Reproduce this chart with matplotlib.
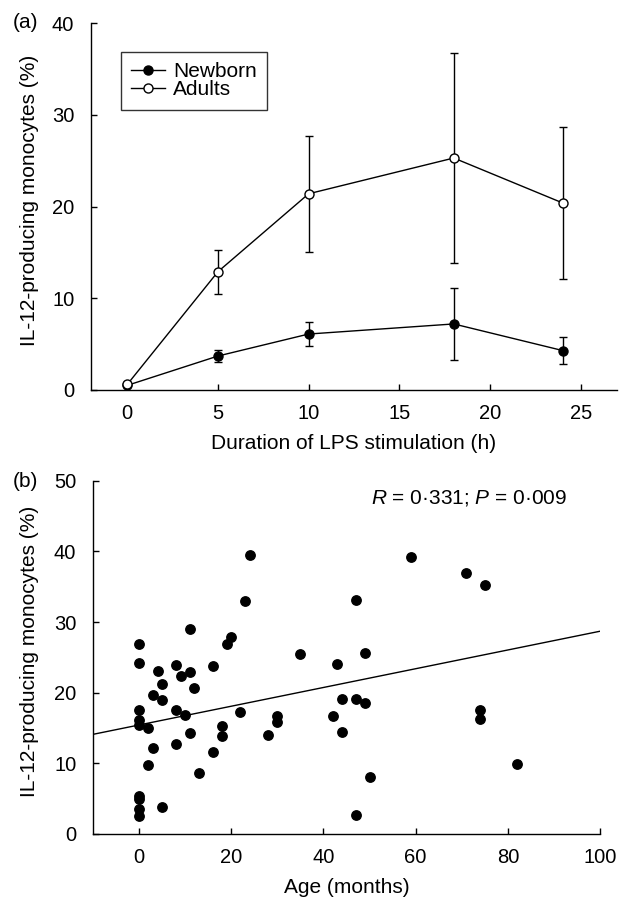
import numpy as np
import matplotlib
matplotlib.use("Agg")
import matplotlib.pyplot as plt

plt.rcParams['font.family'] = ['Liberation Sans', 'DejaVu Sans']
plt.rcParams['mathtext.fontset'] = 'custom'
plt.rcParams['mathtext.rm'] = 'Liberation Sans'
plt.rcParams['mathtext.it'] = 'Liberation Sans:italic'

# (a) IL-12 vs duration of LPS stimulation
hours = [0, 5, 10, 18, 24]
newborn_mean = [0.5, 3.7, 6.1, 7.2, 4.3]
newborn_err = [0, 0.7, 1.35, 3.9, 1.5]
adult_mean = [0.6, 12.9, 21.4, 25.3, 20.4]
adult_err = [0, 2.4, 6.3, 11.5, 8.3]

# (b) IL-12 vs age
age = [0, 0, 0, 0, 0, 0, 0, 0, 0, 2, 2, 3, 3, 4, 5, 5, 5, 8, 8, 8,
       9, 10, 11, 11, 11, 12, 13, 16, 16, 18, 18, 19, 20, 22, 23, 24,
       28, 30, 30, 35, 42, 43, 44, 44, 47, 47, 47, 49, 49, 50, 59, 71,
       75, 74, 74, 82]
il12 = [26.9, 24.2, 17.6, 16.1, 15.4, 5.4, 4.9, 3.6, 2.5, 15.0, 9.8,
        19.7, 12.1, 23.1, 21.2, 18.9, 3.8, 23.9, 17.5, 12.7, 22.4, 16.9,
        29.0, 22.9, 14.3, 20.6, 8.7, 23.8, 11.6, 15.3, 13.8, 26.9, 27.9,
        17.2, 33.0, 39.5, 14.0, 16.7, 15.8, 25.5, 16.7, 24.0, 19.1, 14.5,
        33.1, 19.1, 2.7, 25.6, 18.5, 8.0, 39.2, 36.9, 35.3, 17.5, 16.3, 9.9]
fit_intercept = 15.43
fit_slope = 0.1327

fig = plt.figure(figsize=(6.3, 9.01), dpi=100)
ax1 = fig.add_axes([0.1444, 0.5672, 0.835, 0.407])
ax2 = fig.add_axes([0.1476, 0.0744, 0.8048, 0.392])

for ax in (ax1, ax2):
    ax.spines['top'].set_visible(False)
    ax.spines['right'].set_visible(False)
    for s in ('left', 'bottom'):
        ax.spines[s].set_linewidth(1.0)
    ax.tick_params(direction='in', length=4.5, width=1.0, labelsize=14.5, pad=10)
    ax.tick_params(axis='y', pad=12)

# panel a
nb = ax1.errorbar(hours, newborn_mean, yerr=newborn_err, color='black', marker='o',
                  markersize=6.5, markerfacecolor='black', markeredgecolor='black',
                  lw=1, elinewidth=1, capsize=3, capthick=1)
ad = ax1.errorbar(hours, adult_mean, yerr=adult_err, color='black', marker='o',
                  markersize=6.5, markerfacecolor='white', markeredgecolor='black',
                  markeredgewidth=1, lw=1, elinewidth=1, capsize=3, capthick=1)
ax1.set_xlim(-2, 27)
ax1.set_ylim(0, 40)
ax1.set_xticks([0, 5, 10, 15, 20, 25])
ax1.set_yticks([0, 10, 20, 30, 40])
leg = ax1.legend([nb[0], ad[0]], ['Newborn', 'Adults'],
                 loc='upper left', bbox_to_anchor=(0.057, 0.922), borderaxespad=0,
                 fontsize=15, frameon=True, fancybox=False, edgecolor='black',
                 labelspacing=-0.05, handlelength=1.6, handletextpad=0.4,
                 borderpad=0.5)
leg.get_frame().set_linewidth(1.0)
ax1.set_xlabel('Duration of LPS stimulation (h)', fontsize=15, labelpad=8)

# panel b
ax2.scatter(age, il12, s=46, color='black', zorder=3)
xs = np.array([-10, 100])
ax2.plot(xs, fit_intercept + fit_slope * xs, color='black', lw=1)
ax2.set_xlim(-10, 100)
ax2.set_ylim(0, 50)
ax2.set_xticks([0, 20, 40, 60, 80, 100])
ax2.set_yticks([0, 10, 20, 30, 40, 50])
ax2.set_xlabel('Age (months)', fontsize=15, labelpad=8)
ax2.text(50.3, 47.5, r'$R$ = 0·331; $P$ = 0·009', fontsize=15, ha='left', va='center')

fig.text(30 / 630, 1 - 200 / 901, 'IL-12-producing monocytes (%)', rotation=90,
         ha='center', va='center', fontsize=15)
fig.text(30 / 630, 1 - 651 / 901, 'IL-12-producing monocytes (%)', rotation=90,
         ha='center', va='center', fontsize=15)
fig.text(26 / 630, 1 - 22 / 901, '(a)', ha='center', va='center', fontsize=15)
fig.text(25 / 630, 1 - 482 / 901, '(b)', ha='center', va='center', fontsize=15)

fig.savefig('out.png', dpi=100)
